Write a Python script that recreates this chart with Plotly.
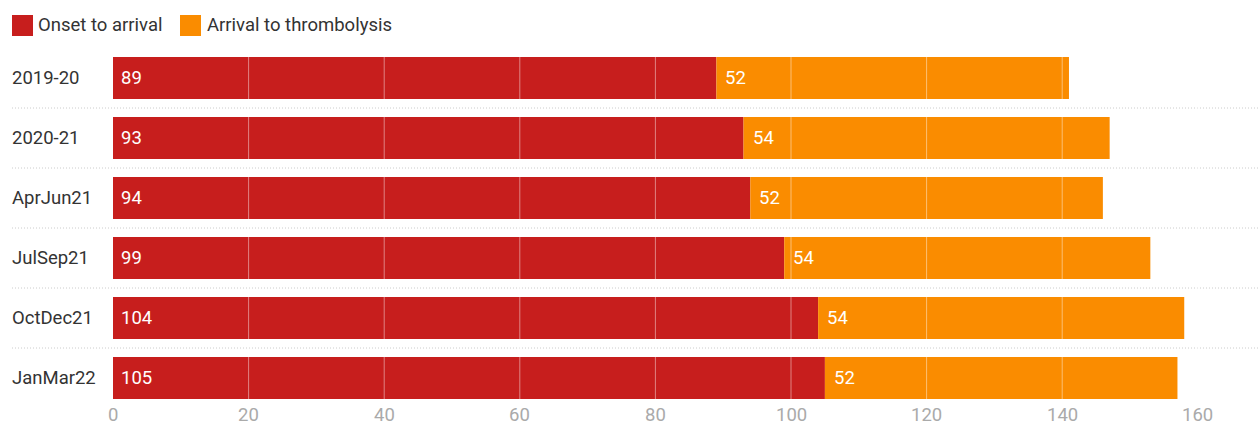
import plotly.graph_objects as go

categories = ["2019-20", "2020-21", "AprJun21", "JulSep21", "OctDec21", "JanMar22"]
onset_to_arrival = [89, 93, 94, 99, 104, 105]
arrival_to_thrombolysis = [52, 54, 52, 54, 54, 52]
series_names = ["Onset to arrival", "Arrival to thrombolysis"]
x_ticks = [0, 20, 40, 60, 80, 100, 120, 140, 160]

RED = "#c71e1d"
ORANGE = "#fa8c00"
W, H = 1258, 427
ML, MR, MT, MB = 113, 0, 48, 19
PW, PH = W - ML - MR, H - MT - MB
PX_PER_UNIT = 6.78
XMAX = PW / PX_PER_UNIT


def px(xp):
    return (xp - ML) / PW


def py(yp):
    return (H - MB - yp) / PH


FONT = "Roboto"
FS = 18.5

fig = go.Figure()
fig.add_trace(go.Bar(y=categories, x=onset_to_arrival, orientation="h",
                     marker=dict(color=RED, line=dict(width=0)), name=series_names[0],
                     width=0.7, showlegend=False, hoverinfo="skip"))
fig.add_trace(go.Bar(y=categories, x=arrival_to_thrombolysis, orientation="h",
                     base=onset_to_arrival,
                     marker=dict(color=ORANGE, line=dict(width=0)), name=series_names[1],
                     width=0.7, showlegend=False, hoverinfo="skip"))

annotations = []
# value labels
for c, a, b in zip(categories, onset_to_arrival, arrival_to_thrombolysis):
    annotations.append(dict(x=0, y=c, xref="x", yref="y", text=str(a), showarrow=False,
                            xanchor="left", xshift=6, font=dict(color="white", size=FS, family=FONT)))
    annotations.append(dict(x=a, y=c, xref="x", yref="y", text=str(b), showarrow=False,
                            xanchor="left", xshift=7, font=dict(color="white", size=FS, family=FONT)))
# category labels, left aligned
for c in categories:
    annotations.append(dict(x=px(10), y=c, xref="paper", yref="y", text=c, showarrow=False,
                            xanchor="left", font=dict(color="#333333", size=FS, family=FONT)))
# x tick labels (as annotations so they sit fully inside the canvas)
for t in x_ticks:
    annotations.append(dict(x=t, y=py(427), xref="x", yref="paper", text=str(t), showarrow=False,
                            xanchor="center", yanchor="bottom", borderpad=0,
                            font=dict(color="#aaaaaa", size=FS, family=FONT)))
# legend
legend_items = [(series_names[0], RED, 12, 36), (series_names[1], ORANGE, 180, 205)]
shapes = []
for name, col, sx, tx in legend_items:
    shapes.append(dict(type="rect", xref="paper", yref="paper", x0=px(sx), x1=px(sx + 21),
                       y0=py(36), y1=py(15), fillcolor=col, line=dict(width=0)))
    annotations.append(dict(x=px(tx), y=py(25), xref="paper", yref="paper", text=name,
                            showarrow=False, xanchor="left", yanchor="middle",
                            font=dict(color="#333333", size=FS, family=FONT)))
# gridlines over bars
for t in x_ticks[1:]:
    shapes.append(dict(type="line", xref="x", yref="paper", x0=t, x1=t, y0=0, y1=1,
                       line=dict(color="rgba(255,255,255,0.45)", width=1), layer="above"))
# dotted row separators
for i in range(len(categories) - 1):
    shapes.append(dict(type="line", xref="paper", yref="y", x0=px(12), x1=1, y0=i + 0.5, y1=i + 0.5,
                       line=dict(color="#cccccc", width=1, dash="1px,2px"), layer="below"))

fig.update_layout(
    width=W, height=H, barmode="overlay",
    margin=dict(l=ML, r=MR, t=MT, b=MB, autoexpand=False),
    paper_bgcolor="white", plot_bgcolor="white",
    xaxis=dict(range=[0, XMAX], tickvals=x_ticks, showgrid=False, zeroline=False, automargin=False,
               showline=False, ticks="", showticklabels=False),
    yaxis=dict(autorange="reversed", showticklabels=False, showgrid=False, zeroline=False,
               automargin=False, categoryorder="array", categoryarray=categories),
    annotations=annotations, shapes=shapes,
    font=dict(family=FONT), hovermode=False,
)
fig.write_html("out.html", config={"displayModeBar": False, "staticPlot": True},
               post_script="document.body.style.margin='0';document.body.style.overflow='hidden';")
